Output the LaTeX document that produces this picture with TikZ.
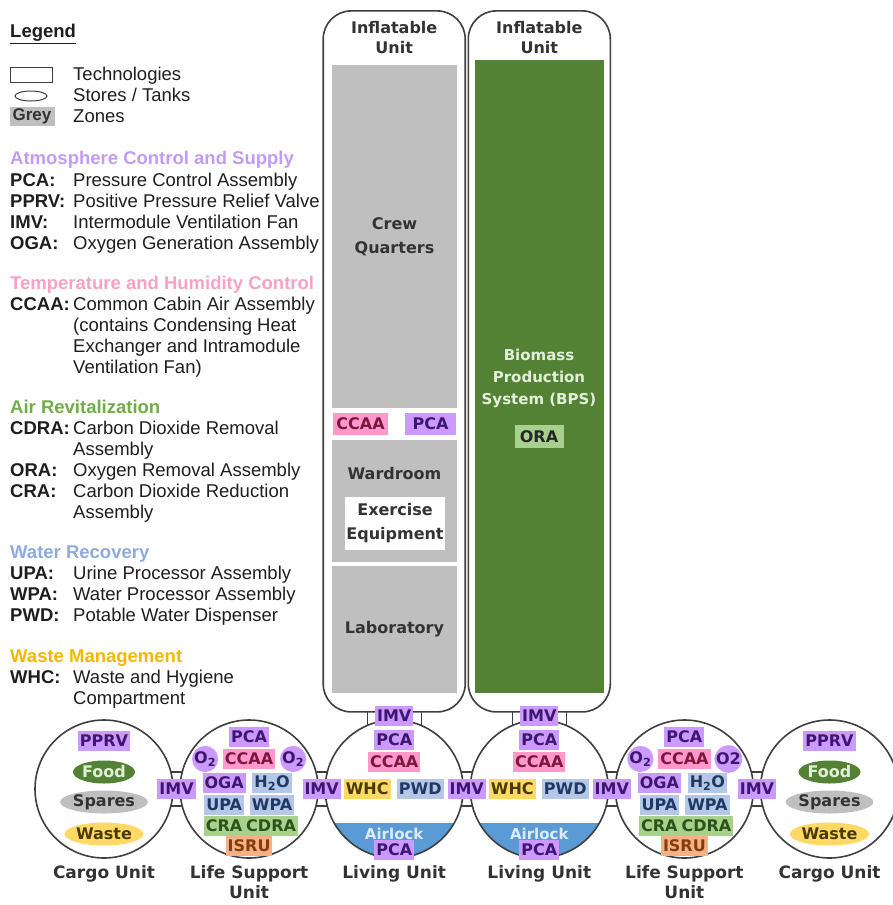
\documentclass[tikz,border=0pt]{standalone}
\usepackage{fontspec}
\setmainfont{Liberation Sans}
\newfontfamily\boxfont{DejaVu Sans}
\usetikzlibrary{shapes.geometric,positioning,calc,backgrounds}

\definecolor{linegrey}{HTML}{3F3F3F}
\definecolor{zonegrey}{HTML}{BFBFBF}
\definecolor{zonetext}{HTML}{333333}
\definecolor{lgtext}{HTML}{1E1E1E}
\definecolor{acsfill}{HTML}{CC99FF}
\definecolor{acstext}{HTML}{3D1670}
\definecolor{thcfill}{HTML}{FF99CC}
\definecolor{thctext}{HTML}{7F1640}
\definecolor{arfill}{HTML}{A9D18E}
\definecolor{artext}{HTML}{2C5218}
\definecolor{wrfill}{HTML}{B4C7E7}
\definecolor{wrtext}{HTML}{1F3864}
\definecolor{wmfill}{HTML}{FFD966}
\definecolor{wmtext}{HTML}{4A3A00}
\definecolor{isrufill}{HTML}{F4B183}
\definecolor{isrutext}{HTML}{843C0C}
\definecolor{bpsgreen}{HTML}{548235}
\definecolor{bpstext}{HTML}{E2F0D9}
\definecolor{foodtext}{HTML}{E2F0D9}
\definecolor{airblue}{HTML}{5B9BD5}
\definecolor{airtext}{HTML}{DDEBF7}
\definecolor{acshead}{HTML}{C39BF5}
\definecolor{thchead}{HTML}{F7A1C4}
\definecolor{arhead}{HTML}{70AD47}
\definecolor{wrhead}{HTML}{8FAADC}
\definecolor{wmhead}{HTML}{F2B800}

\begin{document}
\begin{tikzpicture}[x=1pt,y=-1pt,
  lgtx/.style={anchor=west,inner sep=0pt,text height=13pt,text depth=0pt,text=lgtext,font=\fontsize{18.5}{21}\selectfont},
  lgab/.style={lgtx,font=\fontsize{18.5}{21}\selectfont\bfseries},
  lghead/.style={lgab,text=#1},
  infl/.style={draw=linegrey,line width=1.6pt,fill=white,rounded corners=28pt,minimum width=142pt,minimum height=701pt},
  zone/.style={fill=zonegrey,minimum width=125pt,text=zonetext,align=center,font=\boxfont\bfseries\fontsize{16}{24}\selectfont},
  unit/.style={circle,draw=linegrey,line width=1.6pt,fill=white,minimum size=138pt,inner sep=0pt},
  living/.style={unit,path picture={\fill[airblue] (path picture bounding box.south west) rectangle ([yshift=35pt]path picture bounding box.south east);}},
  port/.style={draw=linegrey,line width=1.2pt,fill=white},
  box/.style={rectangle,inner sep=2pt,minimum height=20pt,font=\boxfont\bfseries\fontsize{16}{18}\selectfont},
  acs/.style={box,fill=acsfill,text=acstext},
  thc/.style={box,fill=thcfill,text=thctext},
  ar/.style={box,fill=arfill,text=artext},
  wr/.style={box,fill=wrfill,text=wrtext},
  wm/.style={box,fill=wmfill,text=wmtext},
  isru/.style={box,fill=isrufill,text=isrutext},
  otwo/.style={box,circle,inner sep=0pt,minimum size=25pt,fill=acsfill,text=acstext},
  store/.style={box,ellipse,inner sep=0pt,minimum width=62pt,minimum height=23pt},
  unitlbl/.style={align=center,text=zonetext,font=\boxfont\bfseries\fontsize{17}{20}\selectfont}]

  \useasboundingbox (0,0) rectangle (892,905);

  % legend
  \node[lgab] (lgtitle) at (10,31) {\underline{Legend}};
  \node[draw=linegrey,line width=1pt,minimum width=42pt,minimum height=15pt,inner sep=0pt] (symtech) at (31,75) {};
  \node[draw=linegrey,line width=1pt,ellipse,minimum width=32pt,minimum height=10pt,inner sep=0pt] (symstore) at (31,96) {};
  \node[fill=zonegrey,text=zonetext,font=\fontsize{17}{20}\selectfont\bfseries,minimum width=45pt,minimum height=19pt,inner sep=0pt] (symzone) at (32,116) {Grey};
  \node[lgtx] (lgtech) at (73,74) {Technologies};
  \node[lgtx] (lgstore) at (73,95) {Stores / Tanks};
  \node[lgtx] (lgzone) at (73,116) {Zones};

  \node[lghead=acshead] (hdacs) at (10,158) {Atmosphere Control and Supply};
  \node[lghead=thchead] (hdthc) at (10,283) {Temperature and Humidity Control};
  \node[lghead=arhead] (hdar) at (10,407) {Air Revitalization};
  \node[lghead=wrhead] (hdwr) at (10,552) {Water Recovery};
  \node[lghead=wmhead] (hdwm) at (10,656) {Waste Management};

  \foreach \y/\ab/\ds in {180/PCA:/Pressure Control Assembly,
      201/PPRV:/Positive Pressure Relief Valve,
      222/IMV:/Intermodule Ventilation Fan,
      243/OGA:/Oxygen Generation Assembly,
      304/CCAA:/Common Cabin Air Assembly,
      325//{(contains Condensing Heat},
      346//Exchanger and Intramodule,
      367//{Ventilation Fan)},
      428/CDRA:/Carbon Dioxide Removal,
      449//Assembly,
      470/ORA:/Oxygen Removal Assembly,
      491/CRA:/Carbon Dioxide Reduction,
      512//Assembly,
      573/UPA:/Urine Processor Assembly,
      594/WPA:/Water Processor Assembly,
      615/PWD:/Potable Water Dispenser,
      677/WHC:/Waste and Hygiene,
      698//Compartment} {
    \node[lgab] (ab\y) at (10,\y) {\ab};
    \node[lgtx] (ds\y) at (73,\y) {\ds};
  }

  % units
  \node[unit] (cargoL) at (104,789) {};
  \node[unit,right=5.5pt of cargoL] (lsL) {};
  \node[living,right=5.5pt of lsL] (livL) {};
  \node[living,right=5.5pt of livL] (livR) {};
  \node[unit,right=5.5pt of livR] (lsR) {};
  \node[unit,right=5.5pt of lsR] (cargoR) {};
  \node[infl,above=6.5pt of livL] (infL) {};
  \node[infl,above=6.5pt of livR] (infR) {};

  \begin{scope}[on background layer]
    \foreach \a/\b in {cargoL/lsL,lsL/livL,livL/livR,livR/lsR,lsR/cargoR}
      \draw[port] ($(\a.east)+(-3,-17)$) rectangle ($(\b.west)+(3,17)$);
    \foreach \a/\b in {infL/livL,infR/livR}
      \draw[port] ($(\a.south)+(-27,-5)$) rectangle ($(\b.north)+(27,5)$);
  \end{scope}

  % inflatable units
  \node[unitlbl,font=\boxfont\bfseries\fontsize{16}{20}\selectfont] (infLlbl) at (infL.center |- 0,38) {Inflatable\\Unit};
  \node[unitlbl,font=\boxfont\bfseries\fontsize{16}{20}\selectfont] (infRlbl) at (infR.center |- 0,38) {Inflatable\\Unit};

  \node[zone,minimum height=343pt] (crew) at (394.5,236.5) {Crew\\Quarters};
  \node[thc,minimum width=55pt,minimum height=22pt] (crewccaa) at (360.5,424) {CCAA};
  \node[acs,minimum width=51pt,minimum height=22pt] (crewpca) at (430.5,424) {PCA};
  \node[zone,minimum height=122pt] (ward) at (394.5,501) {};
  \node[zone,fill=none] (wardlbl) at (394.5,474) {Wardroom};
  \node[zone,fill=white,minimum width=100pt,minimum height=53pt,inner sep=1pt] (exer) at (395,523.5) {Exercise\\Equipment};
  \node[zone,minimum height=127pt] (lab) at (394.5,629.5) {Laboratory};

  \node[fill=bpsgreen,minimum width=129pt,minimum height=633pt] (bps) at (539,376.5) {};
  \node[text=bpstext,align=center,font=\boxfont\bfseries\fontsize{15}{22}\selectfont] (bpslbl) at (539,378) {Biomass\\Production\\System (BPS)};
  \node[ar,text=black!85,minimum width=49pt,minimum height=23pt] (ora) at (539,436.5) {ORA};

  % intermodule fans
  \node[acs] (imvtopL) at ($(infL.south)!0.5!(livL.north)$) {IMV};
  \node[acs] (imvtopR) at ($(infR.south)!0.5!(livR.north)$) {IMV};
  \foreach \a/\b [count=\i] in {cargoL/lsL,lsL/livL,livL/livR,livR/lsR,lsR/cargoR}
    \node[acs] (imv\i) at ($(\a.east)!0.5!(\b.west)$) {IMV};

  % unit contents
  \foreach \u in {cargoL,cargoR} {
    \begin{scope}[shift={(\u)}]
      \node[acs] (\u-pprv) at (0,-48) {PPRV};
      \node[store,fill=bpsgreen,text=foodtext] (\u-food) at (0,-17) {Food};
      \node[store,fill=zonegrey,text=zonetext] (\u-spares) at (0,13) {Spares};
      \node[store,fill=wmfill,text=wmtext] (\u-waste) at (0,45) {Waste};
    \end{scope}
  }
  \foreach \u/\o in {lsL/O\textsubscript{2},lsR/O2} {
    \begin{scope}[shift={(\u)}]
      \node[acs] (\u-pca) at (0,-52) {PCA};
      \node[otwo] (\u-oa) at (-44,-30) {O\textsubscript{2}};
      \node[otwo] (\u-ob) at (44,-30) {\o};
      \node[thc] (\u-ccaa) at (0,-30) {CCAA};
      \node[acs] (\u-oga) at (-25,-6) {OGA};
      \node[wr] (\u-water) at (23,-6) {H\textsubscript{2}O};
      \node[wr] (\u-upa) at (-25,16) {UPA};
      \node[wr] (\u-wpa) at (23,16) {WPA};
      \node[ar] (\u-cra) at (-25,37) {CRA};
      \node[ar] (\u-cdra) at (22,37) {CDRA};
      \node[isru] (\u-isru) at (0,57) {ISRU};
    \end{scope}
  }
  \foreach \u in {livL,livR} {
    \begin{scope}[shift={(\u)}]
      \node[acs] (\u-pca) at (0,-49) {PCA};
      \node[thc] (\u-ccaa) at (0,-27) {CCAA};
      \node[wm] (\u-whc) at (-27,0) {WHC};
      \node[wr] (\u-pwd) at (26,0) {PWD};
      \node[box,text=airtext,font=\boxfont\bfseries\fontsize{15}{18}\selectfont] (\u-air) at (0,45) {Airlock};
      \node[acs] (\u-lockpca) at (0,61) {PCA};
    \end{scope}
  }

  % unit names
  \node[unitlbl,below=3pt of cargoL] (cargoLlbl) {Cargo Unit};
  \node[unitlbl,below=3pt of lsL,anchor=north] (lsLlbl) {Life Support\\Unit};
  \node[unitlbl,below=3pt of livL] (livLlbl) {Living Unit};
  \node[unitlbl,below=3pt of livR] (livRlbl) {Living Unit};
  \node[unitlbl,below=3pt of lsR] (lsRlbl) {Life Support\\Unit};
  \node[unitlbl,below=3pt of cargoR] (cargoRlbl) {Cargo Unit};
\end{tikzpicture}
\end{document}
